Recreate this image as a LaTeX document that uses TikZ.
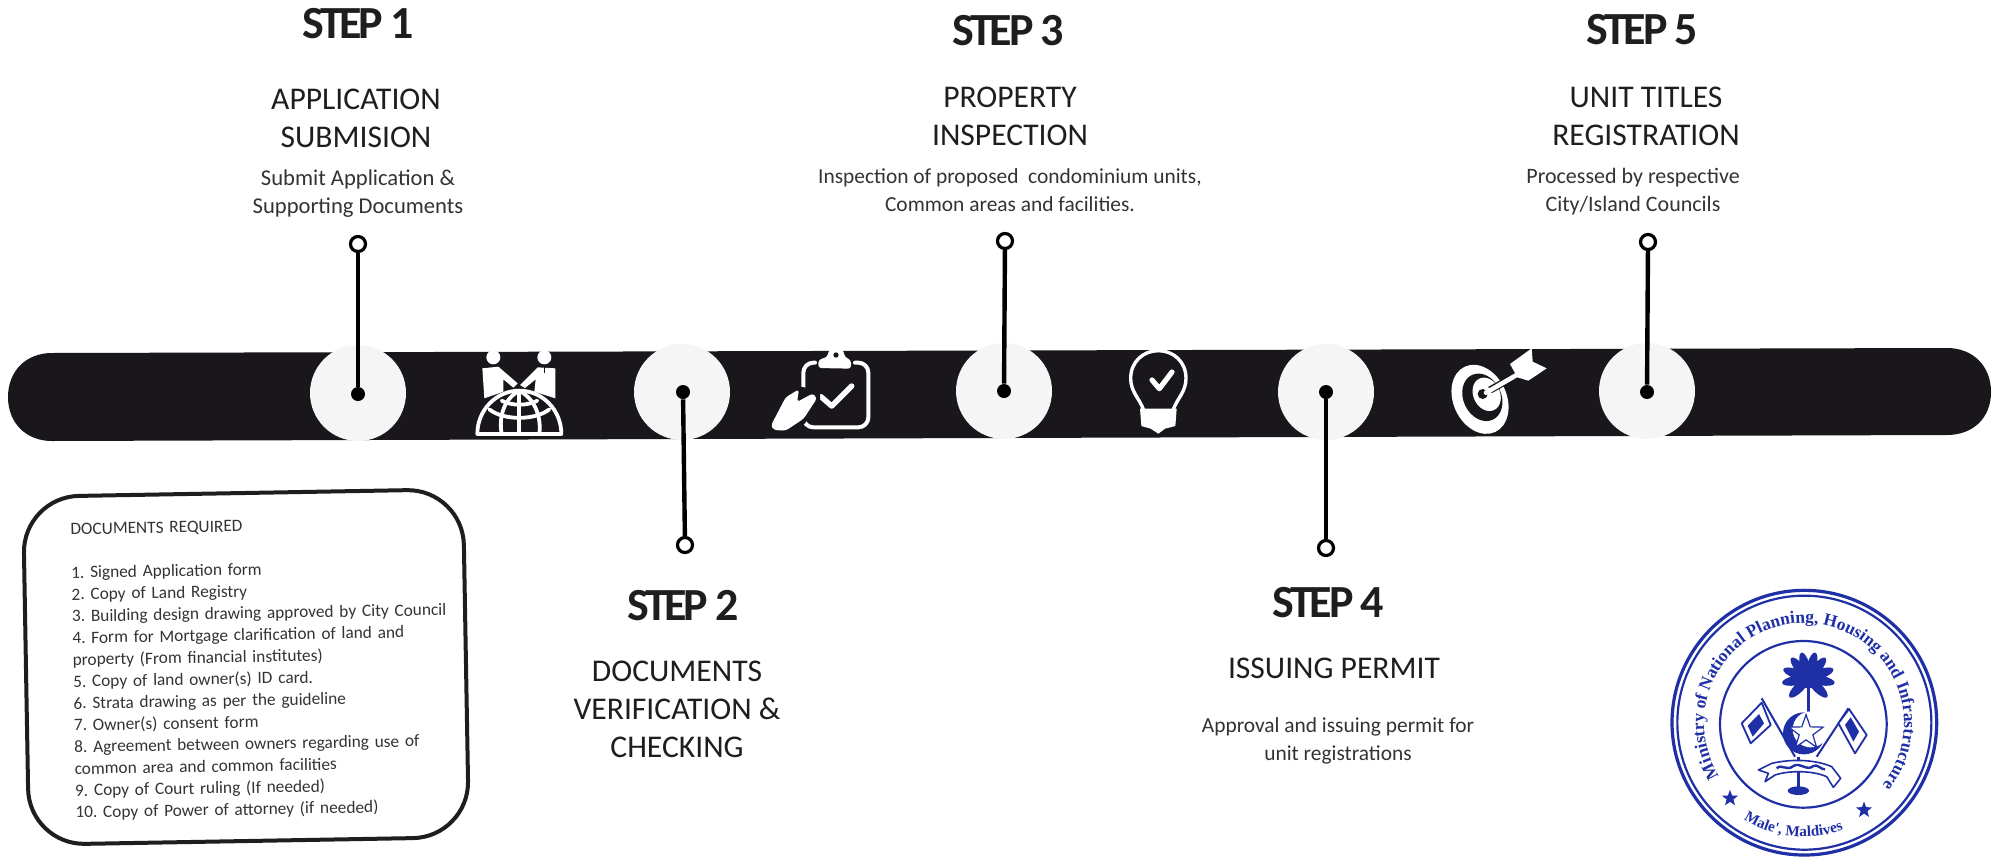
\documentclass[tikz,border=0pt]{standalone}
\usepackage{fontspec}
\setmainfont{Carlito}
\newfontfamily\stepfont[LetterSpace=-7]{Carlito Bold}
\newfontfamily\sealfont{Liberation Serif Bold}
\usetikzlibrary{shapes.geometric,decorations.text}
\definecolor{barc}{HTML}{19171B}
\definecolor{discc}{HTML}{F5F5F5}
\definecolor{sealc}{HTML}{1F2FA6}
\definecolor{inkc}{HTML}{1E1E1E}
\definecolor{softc}{HTML}{333333}
\frenchspacing
\tikzset{
  disc/.style={circle,fill=discc,minimum size=48pt,inner sep=0pt},
  pinring/.style={circle,draw=black,fill=white,line width=1.6pt,minimum size=7.5pt,inner sep=0pt},
  pindot/.style={circle,fill=black,minimum size=7pt,inner sep=0pt},
  pinline/.style={line width=2.2pt,black},
  stephead/.style={font=\stepfont\fontsize{23pt}{24pt}\selectfont,text=inkc,inner sep=0pt,anchor=center},
  steptitle/.style={font=\fontsize{15.8pt}{19pt}\selectfont,text=inkc,align=center,inner sep=0pt,anchor=center},
  stepdesc/.style={font=\fontsize{#1}{14pt}\selectfont,text=softc,align=center,inner sep=0pt,anchor=center},
  stepdesc/.default={10.7pt},
  docbox/.style={draw=inkc,line width=2pt,rounded corners=28pt,minimum width=220pt,minimum height=174pt,inner sep=0pt,rotate=1},
  doctext/.style={font=\fontsize{8.65pt}{10.9pt}\selectfont,text=softc,align=left,inner sep=0pt,rotate=1,text width=200pt},
  zoomunits/.style={x=0.16667pt,y=-0.16667pt},
  iconline/.style={draw=white,line width=2pt,line cap=round,line join=round},
  sealline/.style={draw=sealc,line width=1pt},
}
\begin{document}
\begin{tikzpicture}[x=0.5pt,y=-0.5pt]
\useasboundingbox (0,0) rectangle (1996,857);
\fill[white] (0,0) rectangle (1996,857);

% bar
\fill[barc] (52,353) -- (1947,348) .. controls (1973,348) and (1991,366) .. (1991,392)
  .. controls (1991,418) and (1973,435) .. (1947,435) -- (52,441)
  .. controls (26,441) and (8,423) .. (8,397) .. controls (8,371) and (26,353) .. (52,353) -- cycle;

% discs
\node[disc] (c1) at (358,393) {};
\node[disc] (c2) at (682,392) {};
\node[disc] (c3) at (1004,391) {};
\node[disc] (c4) at (1326,392) {};
\node[disc] (c5) at (1647,391) {};

% pins
\node[pindot] (d1) at (358,394) {};
\node[pinring] (r1) at (358,244) {};
\draw[pinline] (r1) -- (d1);
\node[pindot] (d2) at (683,392) {};
\node[pinring] (r2) at (685,545) {};
\draw[pinline] (d2) -- (r2);
\node[pindot] (d3) at (1004,391) {};
\node[pinring] (r3) at (1005,241) {};
\draw[pinline] (r3) -- (d3);
\node[pindot] (d4) at (1326,392) {};
\node[pinring] (r4) at (1326,548) {};
\draw[pinline] (d4) -- (r4);
\node[pindot] (d5) at (1647,392) {};
\node[pinring] (r5) at (1648,242) {};
\draw[pinline] (r5) -- (d5);

% step texts
\node[stephead] (h1) at (358,24) {STEP 1};
\node[steptitle] (t1) at (356,118) {APPLICATION\\SUBMISION};
\node[stepdesc=11.3pt] (x1) at (358,194) {Submit Application \&\\Supporting Documents};
\node[stephead] (h2) at (683,606) {STEP 2};
\node[steptitle] (t2) at (677,709) {DOCUMENTS\\VERIFICATION \&\\CHECKING};
\node[stephead] (h3) at (1008,31) {STEP 3};
\node[steptitle] (t3) at (1010,116) {PROPERTY\\INSPECTION};
\node[stepdesc] (x3) at (1010,190) {Inspection of proposed\ \ condominium units,\\Common areas and facilities.};
\node[stephead] (h4) at (1328,603) {STEP 4};
\node[steptitle] (t4) at (1334,668) {ISSUING PERMIT};
\node[stepdesc] (x4) at (1338,741) {Approval and issuing permit for\\unit registrations};
\node[stephead] (h5) at (1642,30) {STEP 5};
\node[steptitle] (t5) at (1646,116) {UNIT TITLES\\REGISTRATION};
\node[stepdesc=11pt] (x5) at (1633,192) {Processed by respective\\City/Island Councils};

% documents box
\node[docbox] (box) at (246,667) {};
\node[doctext,anchor=north west] (doc) at (70,523) {DOCUMENTS REQUIRED\\[\baselineskip]
1. Signed Application form\\
2. Copy of Land Registry\\
3. Building design drawing approved by City Council\\
4. Form for Mortgage clarification of land and\\
property (From financial institutes)\\
5. Copy of land owner(s) ID card.\\
6. Strata drawing as per the guideline\\
7. Owner(s) consent form\\
8. Agreement between owners regarding use of\\
common area and common facilities\\
9. Copy of Court ruling (If needed)\\
10. Copy of Power of attorney (if needed)};

% globe icon (crop units, origin 475,340)
\begin{scope}[shift={(475,340)},zoomunits]
  \fill[white] (55,52) circle[radius=21];
  \fill[white] (208,52) circle[radius=21];
  \fill[white] (22,85) -- (70,80) -- (128,130) -- (115,143) -- (85,118) -- (85,155) -- (28,175) -- cycle;
  \fill[white] (241,85) -- (188,82) -- (135,135) -- (150,144) -- (182,118) -- (178,155) -- (241,175) -- cycle;
  \draw[barc,line width=.5pt] (208,82) -- (208,98);
  \begin{scope}[iconline,line width=1.9pt]
    \draw (7,282) arc[x radius=126,y radius=130,start angle=180,end angle=360] -- cycle;
    \draw (133,152) -- (133,282);
    \draw (80,282) .. controls (70,225) and (90,175) .. (133,152) .. controls (176,175) and (200,225) .. (193,282);
    \draw (43,208) .. controls (85,242) and (180,242) .. (223,208);
    \draw (80,182) .. controls (110,198) and (157,198) .. (187,182);
  \end{scope}
\end{scope}

% clipboard icon (crop units, origin 765,340)
\begin{scope}[shift={(765,340)},zoomunits]
  \draw[iconline,rounded corners=5pt] (150,68) -- (115,68) -- (115,262) -- (310,262) -- (310,68) -- (270,68);
  \fill[white,rounded corners=1.5pt] (160,84) -- (160,60) -- (188,50) .. controls (192,18) and (235,18) .. (238,50) -- (258,60) -- (258,86) -- cycle;
  \fill[barc] (213,45) circle[radius=8];
  \draw[iconline,line width=2.7pt] (168,170) -- (200,198) -- (260,138);
  \fill[barc] (8,262) -- (55,160) -- (105,140) -- (165,150) -- (165,185) -- (120,250) -- (60,282) -- (20,282) -- cycle;
  \fill[white,rounded corners=1.5pt] (18,256) -- (62,172) -- (102,148) -- (96,186) -- (144,160) -- (156,175) -- (116,236) -- (62,272) -- (26,270) -- cycle;
\end{scope}

% bulb icon (crop units, origin 1100,330)
\begin{scope}[shift={(1100,330)},zoomunits]
  \draw[iconline,line width=1.7pt] (130,238) .. controls (118,205) and (92,185) .. (92,145) .. controls (92,95) and (130,62) .. (175,62) .. controls (220,62) and (258,95) .. (258,145) .. controls (258,185) and (232,205) .. (220,238);
  \fill[white] (120,236) -- (230,236) -- (226,288) -- (195,296) -- (175,311) -- (152,296) -- (124,288) -- cycle;
  \draw[iconline,line width=2.6pt] (156,150) -- (178,176) -- (216,126);
\end{scope}

% target icon (crop units, origin 1440,340)
\begin{scope}[shift={(1440,340)},zoomunits]
  \fill[white,rotate around={25:(120,178)}] (120,178) ellipse[x radius=80,y radius=108];
  \fill[barc,rotate around={25:(127,172)}] (127,172) ellipse[x radius=57,y radius=74];
  \fill[white,rotate around={25:(140,163)}] (140,163) ellipse[x radius=40,y radius=52];
  \fill[barc] (128,162) circle[radius=15];
  \draw[barc,line width=3.6pt] (150,150) -- (240,100);
  \draw[white,line width=2.3pt,line cap=round] (138,158) -- (235,102);
  \fill[white] (210,72) -- (275,25) -- (278,65) -- (320,85) -- (265,122) -- (232,112) -- cycle;
\end{scope}

% seal (crop units, origin 1560,560)
\begin{scope}[shift={(1560,560)},zoomunits]
  \draw[sealline,line width=1.6pt] (733,488) circle[radius=397];
  \draw[sealline,line width=1.1pt] (733,488) circle[radius=381];
  \draw[sealline,line width=1.1pt] (730,493) circle[radius=250];
  % palm
  \foreach \a in {-100,-70,-40,-15,15,40,70,100,135,-135}
    \fill[sealc,rotate around={\a:(745,355)}] (745,315) ellipse[x radius=14,y radius=40];
  \fill[sealc] (745,355) circle[radius=30];
  \draw[sealline,line width=1.3pt] (745,380) -- (745,470);
  % crescent and star
  \fill[sealc] (732,520) circle[radius=63];
  \fill[white] (752,508) circle[radius=54];
  \node[star,star points=5,star point ratio=2.5,minimum size=18pt,inner sep=0pt,draw=sealc,fill=white,line width=.6pt] (sealstar) at (738,518) {};
  % poles and flags
  \draw[sealline] (605,415) -- (705,590);
  \draw[sealline] (865,445) -- (770,590);
  \draw[sealline,fill=white,line width=.9pt,line join=round] (545,490) -- (605,428) -- (632,495) -- (572,550) -- cycle;
  \fill[sealc] (563,497) -- (597,462) -- (612,490) -- (578,530) -- cycle;
  \draw[sealline,fill=white,line width=.9pt,line join=round] (835,490) -- (867,447) -- (920,525) -- (885,580) -- cycle;
  \fill[sealc] (855,495) -- (872,472) -- (897,515) -- (880,545) -- cycle;
  % stem and ribbon
  \draw[sealline,line width=1.3pt] (715,590) -- (715,690);
  \fill[sealc] (715,692) ellipse[x radius=32,y radius=13];
  \draw[sealline,fill=white,line width=.8pt,line join=round] (595,630) -- (635,610) .. controls (700,595) and (770,600) .. (815,620) -- (842,655) -- (820,682) -- (800,650) .. controls (760,632) and (690,630) .. (645,645) -- (615,665) -- (625,640) -- cycle;
  \draw[sealline,line width=1.2pt] (650,625) .. controls (665,610) and (680,635) .. (700,618) .. controls (720,605) and (740,635) .. (760,618) .. controls (770,610) and (785,630) .. (795,628);
  % stars
  \node[star,star points=5,star point ratio=2.4,minimum size=8.5pt,inner sep=0pt,fill=sealc] (sealstarl) at (510,715) {};
  \node[star,star points=5,star point ratio=2.4,minimum size=8.5pt,inner sep=0pt,fill=sealc] (sealstarr) at (912,750) {};
\end{scope}
\begin{scope}[shift={(1804,723)},x=0.5pt,y=0.5pt]
  \path[decorate,decoration={text along path,text align={left},
    text={|\sealfont\fontsize{8.7pt}{10pt}\selectfont\color{sealc}|Ministry of National Planning, Housing and Infrastructure}}]
    (212:100) arc[start angle=212,end angle=-52,radius=100];
  \path[decorate,decoration={text along path,text align={left},
    text={|\sealfont\fontsize{7.6pt}{8pt}\selectfont\color{sealc}|Male', Maldives}}]
    (238:114) arc[start angle=238,end angle=300,radius=114];
\end{scope}
\end{tikzpicture}
\end{document}
